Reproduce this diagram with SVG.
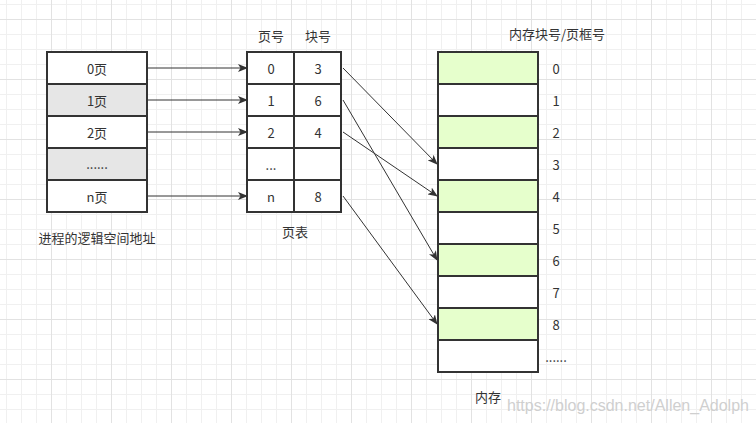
<svg xmlns="http://www.w3.org/2000/svg" width="756" height="423" viewBox="0 0 756 423">
<style>
.cell{stroke:#333;stroke-width:2}
.w{fill:#fff}.g{fill:#e6e6e6}.gr{fill:#e6ffcc}
text{font-family:"Noto Sans CJK SC","Microsoft YaHei",sans-serif;font-size:13px;fill:#333;text-anchor:middle;dominant-baseline:central}
.con{stroke:#333;stroke-width:1;fill:none;marker-end:url(#arr)}
.wm{font-family:"Liberation Sans",Arial,sans-serif;font-size:16px;fill:#cfcfcf;text-anchor:start;dominant-baseline:alphabetic}
</style>
<defs>
<pattern id="grid" patternUnits="userSpaceOnUse" x="51" y="19" width="60" height="60">
<rect width="60" height="60" fill="#fff"/>
<rect x="15" width="1" height="60" fill="#f0f0f0"/><rect x="30" width="1" height="60" fill="#f0f0f0"/><rect x="45" width="1" height="60" fill="#f0f0f0"/>
<rect y="15" width="60" height="1" fill="#f0f0f0"/><rect y="30" width="60" height="1" fill="#f0f0f0"/><rect y="45" width="60" height="1" fill="#f0f0f0"/>
<rect x="0" width="1" height="60" fill="#e2e2e2"/><rect y="0" width="60" height="1" fill="#e2e2e2"/>
</pattern>
<marker id="arr" markerWidth="10" markerHeight="8" refX="9" refY="4" orient="auto" markerUnits="userSpaceOnUse">
<path d="M0,0 L10,4 L0,8 L2.5,4 Z" fill="#333"/>
</marker>
</defs>
<rect width="756" height="423" fill="url(#grid)"/>

<g id="logical">
<rect class="cell w" x="47" y="52" width="100" height="32"/>
<rect class="cell g" x="47" y="84" width="100" height="32"/>
<rect class="cell w" x="47" y="116" width="100" height="32"/>
<rect class="cell g" x="47" y="148" width="100" height="32"/>
<rect class="cell w" x="47" y="180" width="100" height="32"/>
<text x="97" y="68">0页</text>
<text x="97" y="100">1页</text>
<text x="97" y="132">2页</text>
<text x="97" y="163">......</text>
<text x="97" y="196">n页</text>
<text x="97" y="237">进程的逻辑空间地址</text>
</g>

<g id="pagetable">
<rect class="cell w" x="247" y="52" width="47" height="32"/><rect class="cell w" x="294" y="52" width="47" height="32"/>
<rect class="cell w" x="247" y="84" width="47" height="32"/><rect class="cell w" x="294" y="84" width="47" height="32"/>
<rect class="cell w" x="247" y="116" width="47" height="32"/><rect class="cell w" x="294" y="116" width="47" height="32"/>
<rect class="cell w" x="247" y="148" width="47" height="32"/><rect class="cell w" x="294" y="148" width="47" height="32"/>
<rect class="cell w" x="247" y="180" width="47" height="32"/><rect class="cell w" x="294" y="180" width="47" height="32"/>
<text x="271" y="35">页号</text><text x="318" y="35">块号</text>
<text x="271" y="68">0</text><text x="318" y="68">3</text>
<text x="271" y="100">1</text><text x="318" y="100">6</text>
<text x="271" y="132">2</text><text x="318" y="132">4</text>
<text x="271" y="164">...</text>
<text x="271" y="196">n</text><text x="318" y="196">8</text>
<text x="295" y="231">页表</text>
</g>

<g id="memory">
<rect class="cell gr" x="438" y="52" width="100" height="32"/>
<rect class="cell w" x="438" y="84" width="100" height="32"/>
<rect class="cell gr" x="438" y="116" width="100" height="32"/>
<rect class="cell w" x="438" y="148" width="100" height="32"/>
<rect class="cell gr" x="438" y="180" width="100" height="32"/>
<rect class="cell w" x="438" y="212" width="100" height="32"/>
<rect class="cell gr" x="438" y="244" width="100" height="32"/>
<rect class="cell w" x="438" y="276" width="100" height="32"/>
<rect class="cell gr" x="438" y="308" width="100" height="32"/>
<rect class="cell w" x="438" y="340" width="100" height="32"/>
<text x="557" y="33">内存块号/页框号</text>
<text x="556" y="68">0</text><text x="556" y="100">1</text><text x="556" y="132">2</text>
<text x="556" y="164">3</text><text x="556" y="196">4</text><text x="556" y="228">5</text>
<text x="556" y="260">6</text><text x="556" y="292">7</text><text x="556" y="324">8</text>
<text x="556" y="356">......</text>
<text x="488" y="396">内存</text>
</g>

<g id="connectors">
<line class="con" x1="148" y1="68" x2="247" y2="68"/>
<line class="con" x1="148" y1="100" x2="247" y2="100"/>
<line class="con" x1="148" y1="132" x2="247" y2="132"/>
<line class="con" x1="148" y1="196" x2="247" y2="196"/>
<line class="con" x1="343" y1="68" x2="437" y2="164"/>
<line class="con" x1="343" y1="100" x2="437" y2="260"/>
<line class="con" x1="343" y1="132" x2="437" y2="196"/>
<line class="con" x1="343" y1="196" x2="437" y2="324"/>
</g>

<text class="wm" x="507" y="411">https://blog.csdn.net/Allen_Adolph</text>
</svg>
